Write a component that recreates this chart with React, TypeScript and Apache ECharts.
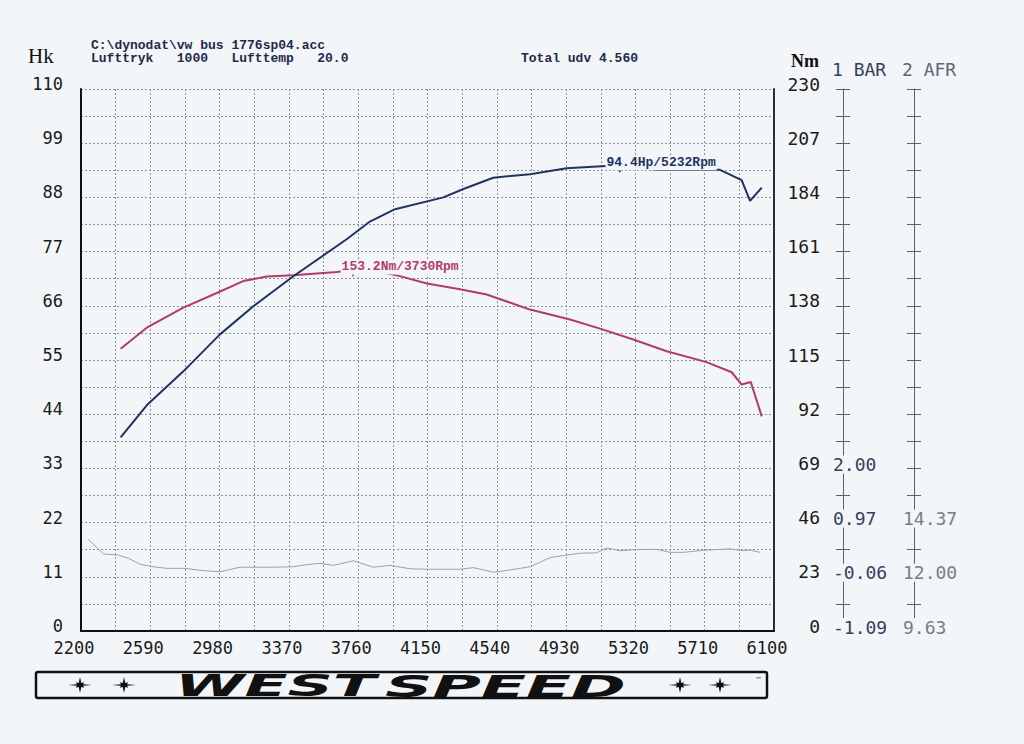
import { useEffect, useRef } from 'react';
import * as echarts from 'echarts';

// x-akse (omdr/min)
const RPM_MIN = 2200;
const RPM_MAX = 6100;
const RPM_STEP = 390;

// venstre akse Hk, højre akse Nm
const HK_MAX = 110;
const HK_STEP = 11;
const NM_MAX = 230;
const NM_STEP = 23;

// BAR / AFR akser (kun de nederste værdier har tekst)
const BAR_MIN = -1.09;
const BAR_STEP = 1.03;
const barLabels = [-1.09, -0.06, 0.97, 2.0];
const AFR_MIN = 9.63;
const AFR_STEP = 2.37;
const afrLabels = [9.63, 12.0, 14.37];

// effekt (Hk)
const hpRpm = [2423, 2570, 2776, 2982, 3170, 3395, 3695, 3826, 3967, 4239, 4352, 4520, 4727, 4933, 5130, 5232, 5440, 5796, 5918, 5965, 6031];
const hpValues = [39.3, 45.8, 52.7, 60.2, 65.9, 72.0, 79.5, 83.1, 85.6, 88.0, 89.7, 92.0, 92.7, 93.9, 94.3, 94.4, 93.6, 93.6, 91.5, 87.3, 90.0];

// moment (Nm)
const nmRpm = [2423, 2570, 2776, 2945, 3113, 3245, 3395, 3639, 3730, 3901, 3995, 4146, 4333, 4483, 4727, 4952, 5121, 5308, 5496, 5721, 5862, 5918, 5969, 6031];
const nmValues = [119.8, 128.7, 137.2, 142.8, 148.5, 150.4, 151.0, 152.3, 153.2, 152.1, 150.6, 147.5, 145.0, 142.8, 136.4, 132.2, 128.3, 123.7, 118.7, 114.1, 109.8, 104.6, 105.7, 91.1];

// AFR
const afrRpm = [2241, 2326, 2410, 2466, 2532, 2607, 2682, 2785, 2888, 2982, 3095, 3282, 3395, 3470, 3545, 3620, 3732, 3845, 3939, 4052, 4146, 4333, 4408, 4521, 4614, 4727, 4840, 4933, 5008, 5102, 5159, 5233, 5327, 5440, 5515, 5590, 5702, 5853, 5928, 5965, 6021];
const afrValues = [13.64, 13.0, 12.95, 12.81, 12.55, 12.44, 12.37, 12.37, 12.27, 12.22, 12.42, 12.42, 12.44, 12.53, 12.59, 12.5, 12.7, 12.42, 12.5, 12.35, 12.33, 12.33, 12.4, 12.2, 12.3, 12.44, 12.84, 12.95, 13.03, 13.05, 13.26, 13.14, 13.19, 13.2, 13.07, 13.07, 13.16, 13.22, 13.14, 13.17, 13.07];

const hpPeak = { rpm: 5232, value: 94.4 };
const nmPeak = { rpm: 3730, value: 153.2 };

const PAGE = '#f3f6f8';
const HP_COLOR = '#1e3460';
const NM_COLOR = '#b23a6c';
const AFR_COLOR = '#9ba1a8';
const GRID_COLOR = '#8c9299';
const MONO = "'DejaVu Sans Mono', monospace";
const HEAD_FONT = "'Liberation Mono', monospace";

const pairs = (xs: number[], ys: number[]) => xs.map((x, i) => [x - RPM_MIN, ys[i]]);

const isMultiple = (v: number, step: number) => Math.abs(v / step - Math.round(v / step)) < 1e-6;

const stepValues = (min: number, step: number) =>
    Array.from({ length: 21 }, (_, k) => +(min + (k * step) / 2).toFixed(4));

const starPoints = (cx: number, cy: number) => {
    const pts: number[][] = [];
    for (let i = 0; i < 16; i++) {
        const a = (Math.PI * i) / 8;
        let r = 0.28;
        if (i % 4 === 0) r = 1;
        else if (i % 2 === 0) r = 0.5;
        pts.push([cx + Math.cos(a) * 12 * r, cy + Math.sin(a) * 8 * r]);
    }
    return pts;
};

const sideAxis = (min: number, step: number, labels: number[], offset: number, margin: number, color: string, inside: boolean) => ({
    type: 'value',
    position: 'right',
    offset,
    min,
    max: +(min + 10 * step).toFixed(4),
    splitLine: { show: false },
    axisLine: { show: !inside, lineStyle: { color: '#5a6070', width: 1 } },
    axisTick: {
        show: true,
        inside,
        length: 7,
        customValues: stepValues(min, step),
        lineStyle: { color: '#5a6070', width: 1 },
    },
    axisLabel: inside
        ? { show: false }
        : {
              show: true,
              customValues: labels,
              // tekst løftet lidt over niveauet, med baggrund der skjuler aksestregen
              formatter: (v: number) => `{t|${v.toFixed(2)}}\n{s| }`,
              align: 'left',
              margin,
              rich: {
                  t: { fontFamily: MONO, fontSize: 18, lineHeight: 16, color, backgroundColor: PAGE, padding: [0, 1] },
                  s: { fontSize: 1, lineHeight: 8 },
              },
          },
});

const peakMark = (rpm: number, value: number, text: string, color: string, distance: number) => ({
    silent: true,
    symbol: 'rect',
    symbolSize: [1.5, 5],
    symbolOffset: [0, 4],
    itemStyle: { color },
    label: {
        show: true,
        position: 'right',
        distance,
        offset: [0, -7],
        formatter: text,
        color,
        fontFamily: HEAD_FONT,
        fontWeight: 'bold',
        fontSize: 13,
        backgroundColor: PAGE,
        padding: [1, 1],
    },
    data: [{ coord: [rpm - RPM_MIN, value] }],
});

const buildOption = () => ({
    animation: false,
    backgroundColor: PAGE,
    grid: { left: 81, top: 89, width: 693, height: 542 },
    xAxis: {
        type: 'value',
        min: 0,
        max: RPM_MAX - RPM_MIN,
        interval: RPM_STEP / 2,
        axisLine: { lineStyle: { color: '#111', width: 2 } },
        axisTick: { show: false },
        splitLine: { show: true, lineStyle: { color: GRID_COLOR, width: 1, type: [2, 2] } },
        axisLabel: {
            showMinLabel: true,
            showMaxLabel: true,
            margin: 8,
            padding: [0, 14, 0, 0],
            color: '#1a1a1a',
            fontFamily: MONO,
            fontSize: 17,
            formatter: (v: number) => (isMultiple(v, RPM_STEP) ? String(v + RPM_MIN) : ''),
        },
    },
    yAxis: [
        {
            type: 'value',
            min: 0,
            max: HK_MAX,
            interval: HK_STEP / 2,
            axisLine: { show: true, lineStyle: { color: '#111', width: 2 } },
            axisTick: { show: false },
            splitLine: { show: true, lineStyle: { color: GRID_COLOR, width: 1, type: [2, 2] } },
            axisLabel: {
                margin: 18,
                verticalAlign: 'bottom',
                lineHeight: 10,
                color: '#1a1a1a',
                fontFamily: MONO,
                fontSize: 17,
                showMaxLabel: true,
                formatter: (v: number) => (isMultiple(v, HK_STEP) ? String(Math.round(v)) : ''),
            },
        },
        {
            type: 'value',
            position: 'right',
            min: 0,
            max: NM_MAX,
            interval: NM_STEP / 2,
            axisLine: { show: true, lineStyle: { color: '#2a2d33', width: 2 } },
            axisTick: { show: false },
            splitLine: { show: false },
            axisLabel: {
                align: 'right',
                verticalAlign: 'bottom',
                lineHeight: 10,
                margin: 46,
                color: '#1a1a1a',
                fontFamily: MONO,
                fontSize: 18,
                showMaxLabel: true,
                formatter: (v: number) => (isMultiple(v, NM_STEP) ? String(Math.round(v)) : ''),
            },
        },
        sideAxis(BAR_MIN, BAR_STEP, barLabels, 69, -11, '#34405e', false),
        sideAxis(AFR_MIN, AFR_STEP, afrLabels, 140, -12, '#767d86', false),
        sideAxis(BAR_MIN, BAR_STEP, barLabels, 69, -11, '#34405e', true),
        sideAxis(AFR_MIN, AFR_STEP, afrLabels, 140, -12, '#767d86', true),
    ],
    series: [
        {
            name: 'AFR',
            type: 'line',
            yAxisIndex: 3,
            data: pairs(afrRpm, afrValues),
            showSymbol: false,
            silent: true,
            lineStyle: { color: AFR_COLOR, width: 1 },
        },
        {
            name: 'Nm',
            type: 'line',
            yAxisIndex: 1,
            data: pairs(nmRpm, nmValues),
            showSymbol: false,
            silent: true,
            lineStyle: { color: NM_COLOR, width: 2 },
            markPoint: peakMark(nmPeak.rpm, nmPeak.value, `${nmPeak.value}Nm/${nmPeak.rpm}Rpm`, NM_COLOR, -13),
        },
        {
            name: 'Hk',
            type: 'line',
            yAxisIndex: 0,
            data: pairs(hpRpm, hpValues),
            showSymbol: false,
            silent: true,
            lineStyle: { color: HP_COLOR, width: 2 },
            markPoint: peakMark(hpPeak.rpm, hpPeak.value, `${hpPeak.value}Hp/${hpPeak.rpm}Rpm`, HP_COLOR, -15),
        },
    ],
    graphic: [
        { type: 'text', x: 28, y: 56, style: { text: 'Hk', fontFamily: "'Liberation Serif', serif", fontSize: 21, fill: '#111', verticalAlign: 'middle' } },
        { type: 'text', x: 91, y: 45, style: { text: 'C:\\dynodat\\vw bus 1776sp04.acc', fontFamily: HEAD_FONT, fontWeight: 'bold', fontSize: 13, fill: '#1d2a4c', verticalAlign: 'middle' } },
        { type: 'text', x: 91, y: 58, style: { text: 'Lufttryk   1000   Lufttemp   20.0', fontFamily: HEAD_FONT, fontWeight: 'bold', fontSize: 13, fill: '#1d2a4c', verticalAlign: 'middle' } },
        { type: 'text', x: 521, y: 58, style: { text: 'Total udv 4.560', fontFamily: HEAD_FONT, fontWeight: 'bold', fontSize: 13, fill: '#1d2a4c', verticalAlign: 'middle' } },
        { type: 'text', x: 791, y: 61, style: { text: 'Nm', fontFamily: "'Liberation Serif', serif", fontWeight: 'bold', fontSize: 18, fill: '#111', verticalAlign: 'middle' } },
        { type: 'text', x: 832, y: 69, style: { text: '1 BAR', fontFamily: MONO, fontSize: 18, fill: '#34405e', verticalAlign: 'middle' } },
        { type: 'text', x: 902, y: 69, style: { text: '2 AFR', fontFamily: MONO, fontSize: 18, fill: '#5d6573', verticalAlign: 'middle' } },
        // logo
        { type: 'rect', shape: { x: 36, y: 672, width: 731, height: 26, r: 2 }, style: { fill: 'none', stroke: '#111', lineWidth: 2.5 } },
        { type: 'polygon', shape: { points: starPoints(80, 685) }, style: { fill: '#111' } },
        { type: 'polygon', shape: { points: starPoints(124, 685) }, style: { fill: '#111' } },
        { type: 'polygon', shape: { points: starPoints(680, 685) }, style: { fill: '#111' } },
        { type: 'polygon', shape: { points: starPoints(720, 685) }, style: { fill: '#111' } },
        { type: 'text', x: 175, y: 686, scaleX: 2.1, style: { text: 'WEST', fontFamily: "'DejaVu Sans', sans-serif", fontStyle: 'italic', fontWeight: 'bold', fontSize: 30, fill: '#111', verticalAlign: 'middle' } },
        { type: 'text', x: 385, y: 686, scaleX: 2.2, style: { text: 'SPEED', fontFamily: "'DejaVu Sans', sans-serif", fontStyle: 'italic', fontWeight: 'bold', fontSize: 30, fill: '#111', verticalAlign: 'middle' } },
        { type: 'text', x: 755, y: 680, style: { text: '™', fontFamily: "'DejaVu Sans', sans-serif", fontSize: 7, fill: '#333', verticalAlign: 'middle' } },
    ],
});

const App = () => {
    const chartRef = useRef<HTMLDivElement>(null);

    useEffect(() => {
        if (!chartRef.current) return;
        const chart = echarts.init(chartRef.current, null, { renderer: 'svg' });
        chart.setOption(buildOption() as any);
        return () => {
            chart.dispose();
        };
    }, []);

    return (
        <div
            ref={chartRef}
            style={{ position: 'fixed', left: 0, top: 0, width: '1024px', height: '744px', background: PAGE }}
        />
    );
};

export default App;
